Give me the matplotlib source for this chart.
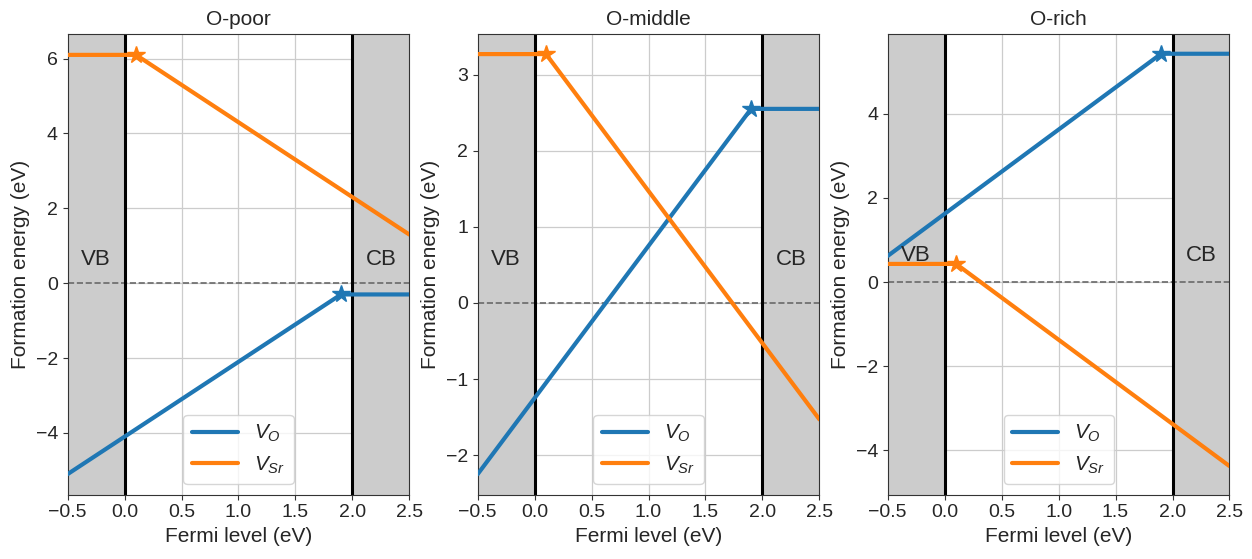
import numpy as np
import matplotlib
matplotlib.use("Agg")
import matplotlib.pyplot as plt
import seaborn as sns

sns.set_style("ticks")
plt.rcParams["font.family"] = ["Liberation Sans", "DejaVu Sans"]
plt.rcParams["mathtext.fontset"] = "custom"
plt.rcParams["mathtext.rm"] = "Liberation Sans"
plt.rcParams["mathtext.it"] = "Liberation Sans:italic"

# data
conditions = ["O-poor", "O-middle", "O-rich"]
fermi_vo = [-0.5, 1.9, 2.5]
fermi_vsr = [-0.5, 0.1, 2.5]
vo_poor = [-5.1, -0.3, -0.3]
vo_middle = [-2.25, 2.55, 2.55]
vo_rich = [0.62, 5.42, 5.42]
vsr_poor = [6.1, 6.1, 1.3]
vsr_middle = [3.27, 3.27, -1.53]
vsr_rich = [0.43, 0.43, -4.37]
vo_data = [vo_poor, vo_middle, vo_rich]
vsr_data = [vsr_poor, vsr_middle, vsr_rich]
ylims = [(-5.65, 6.67), (-2.52, 3.54), (-5.05, 5.9)]
ystep = [2, 1, 2]

vbm, cbm = 0.0, 2.0
blue, orange = "#1f77b4", "#ff7f0e"

fig, axes = plt.subplots(1, 3, figsize=(12.52, 5.59), dpi=100)
fig.subplots_adjust(left=0.054, right=0.982, bottom=0.115, top=0.94, wspace=0.2)

for i, ax in enumerate(axes):
    ax.axvspan(-0.5, vbm, color="#cccccc", zorder=0)
    ax.axvspan(cbm, 2.5, color="#cccccc", zorder=0)
    ax.grid(True, color="#cccccc", linewidth=0.9, zorder=0.5)
    ax.axhline(0, color="dimgray", linestyle="--", linewidth=1.2, zorder=1)
    ax.axvline(vbm, color="black", linewidth=2.2, zorder=2)
    ax.axvline(cbm, color="black", linewidth=2.2, zorder=2)

    ax.plot(fermi_vo, vo_data[i], color=blue, linewidth=3, label="$V_O$", zorder=3)
    ax.plot(fermi_vsr, vsr_data[i], color=orange, linewidth=3, label="$V_{Sr}$", zorder=3)
    ax.plot(fermi_vo[1], vo_data[i][1], marker="*", color=blue, markersize=13, zorder=4)
    ax.plot(fermi_vsr[1], vsr_data[i][1], marker="*", color=orange, markersize=13, zorder=4)

    ax.text(-0.25, 0.5, "VB", ha="center", va="baseline", fontsize=16, color="#262626")
    ax.text(2.25, 0.5, "CB", ha="center", va="baseline", fontsize=16, color="#262626")

    ax.set_xlim(-0.5, 2.5)
    ax.set_ylim(*ylims[i])
    ax.set_xticks(np.arange(-0.5, 2.51, 0.5))
    lo, hi = ylims[i]
    ax.set_yticks(np.arange(np.ceil(lo / ystep[i]) * ystep[i], hi, ystep[i]))
    ax.tick_params(labelsize=14, color="#333333", labelcolor="#262626")
    for s in ax.spines.values():
        s.set_color("#333333")
    ax.set_title(conditions[i], fontsize=15, color="#262626")
    ax.set_xlabel("Fermi level (eV)", fontsize=15, color="#262626")
    ax.set_ylabel("Formation energy (eV)", fontsize=15, color="#262626")
    ax.legend(loc="lower center", fontsize=15, frameon=True, facecolor="white",
              edgecolor="#cccccc", framealpha=0.8, handlelength=2.2)

fig.savefig("out.png", dpi=100)
